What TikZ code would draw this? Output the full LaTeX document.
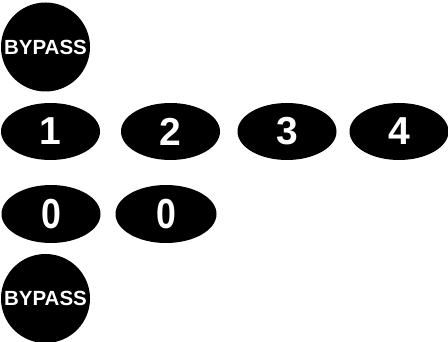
\documentclass[tikz,border=0pt]{standalone}
\usepackage{fontspec}
\setmainfont{Liberation Sans}
\usetikzlibrary{shapes.geometric}
\begin{document}
\begin{tikzpicture}[x=1pt,y=-1pt,
  circbtn/.style={circle,fill=black,minimum size=89pt,inner sep=0pt,text=white,font=\fontsize{20.5}{20.5}\selectfont\bfseries},
  ovalbtn/.style={ellipse,fill=black,minimum width=99pt,minimum height=57pt,inner sep=0pt,text=white,font=\fontsize{39}{39}\selectfont\bfseries},
  zerobtn/.style={ellipse,fill=black,minimum width=99pt,minimum height=58pt,inner sep=0pt,text=white,font=\fontsize{42}{42}\selectfont\bfseries}]
\useasboundingbox (0,0) rectangle (448,342);
\node[circbtn] (bypassA) at (45.5,47) {BYPASS};
\node[ovalbtn] (k1) at (50.5,131.5) {1};
\node[ovalbtn] (k2) at (170.5,131.5) {2};
\node[ovalbtn] (k3) at (287,131.5) {3};
\node[ovalbtn] (k4) at (399,131.5) {4};
\node[zerobtn] (z1) at (51,214) {\scalebox{0.85}[1]{0}};
\node[zerobtn,minimum width=101pt] (z2) at (166,214) {\scalebox{0.85}[1]{0}};
\node[circbtn] (bypassB) at (45.5,298.5) {BYPASS};
\end{tikzpicture}
\end{document}
